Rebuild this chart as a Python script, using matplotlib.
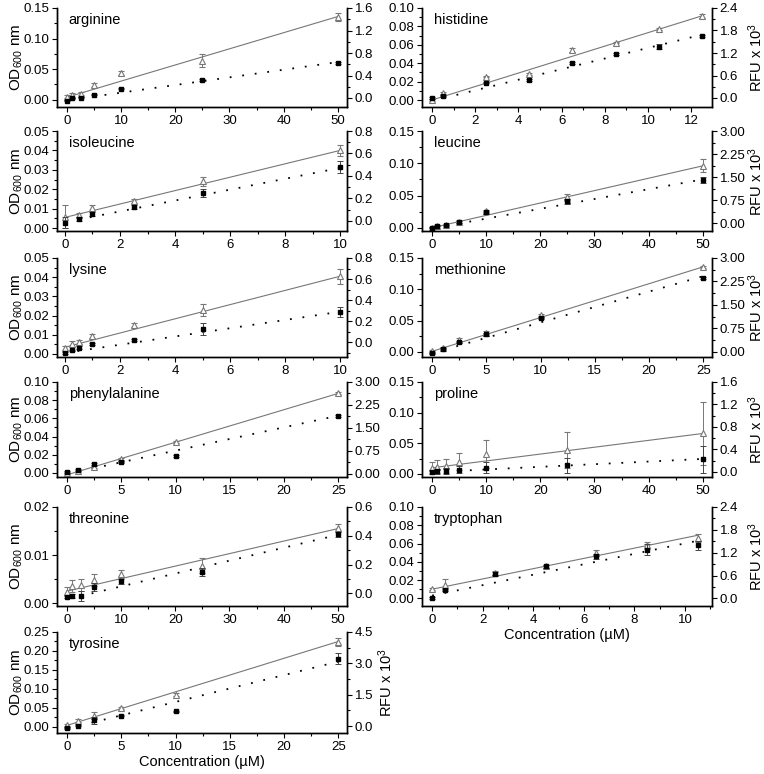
import matplotlib
matplotlib.use("Agg")
import matplotlib.pyplot as plt
from matplotlib.ticker import AutoMinorLocator, FormatStrFormatter

plt.rcParams['font.family'] = ['Liberation Sans', 'DejaVu Sans']
plt.rcParams['mathtext.fontset'] = 'custom'
plt.rcParams['mathtext.rm'] = 'Liberation Sans'
plt.rcParams['mathtext.default'] = 'regular'
plt.rcParams['font.size'] = 10

# ---- data (left axis units: OD600) ----
# tri = open triangles (solid fit), sq = filled squares (dotted fit)
arg_x = [0, 1, 2.5, 5, 10, 25, 50]
arg_tri = [0.005, 0.0075, 0.010, 0.024, 0.044, 0.064, 0.1355]
arg_tri_err = [0.002, 0.004, 0.003, 0.004, 0.003, 0.010, 0.006]
arg_sq = [-0.002, 0.002, 0.003, 0.008, 0.018, 0.032, 0.060]
arg_sq_err = [0.001, 0.001, 0.001, 0.001, 0.001, 0.001, 0.001]
arg_fit_tri = [0.004, 0.136]
arg_fit_sq = [-0.001, 0.0615]

his_x = [0, 0.5, 2.5, 4.5, 6.5, 8.5, 10.5, 12.5]
his_tri = [0.000, 0.0073, 0.0255, 0.0284, 0.054, 0.0625, 0.077, 0.091]
his_tri_err = [0.001, 0.001, 0.001, 0.001, 0.002, 0.001, 0.001, 0.002]
his_sq = [0.0025, 0.0044, 0.019, 0.022, 0.040, 0.050, 0.058, 0.070]
his_sq_err = [0.001, 0.001, 0.001, 0.001, 0.001, 0.001, 0.003, 0.001]
his_fit_tri = [0.000, 0.0915]
his_fit_sq = [-0.001, 0.071]

ile_x = [0, 0.5, 1, 2.5, 5, 10]
ile_tri = [0.0058, 0.0067, 0.0105, 0.014, 0.0240, 0.0400]
ile_tri_err = [0.006, 0.001, 0.0015, 0.001, 0.0025, 0.003]
ile_sq = [0.0028, 0.0046, 0.0072, 0.011, 0.0180, 0.0315]
ile_sq_err = [0.003, 0.001, 0.001, 0.001, 0.002, 0.003]
ile_fit_tri = [0.0055, 0.040]
ile_fit_sq = [0.003, 0.031]

leu_x = [0, 1, 2.5, 5, 10, 25, 50]
leu_tri = [0.000, 0.003, 0.005, 0.0095, 0.026, 0.047, 0.096]
leu_tri_err = [0.001, 0.001, 0.001, 0.002, 0.002, 0.006, 0.010]
leu_sq = [0.000, 0.003, 0.004, 0.009, 0.024, 0.041, 0.074]
leu_sq_err = [0.001, 0.001, 0.001, 0.002, 0.002, 0.004, 0.005]
leu_fit_tri = [0.000, 0.096]
leu_fit_sq = [-0.001, 0.075]

lys_x = [0, 0.25, 0.5, 1, 2.5, 5, 10]
lys_tri = [0.003, 0.005, 0.006, 0.0095, 0.015, 0.0228, 0.0405]
lys_tri_err = [0.001, 0.0015, 0.001, 0.001, 0.001, 0.003, 0.004]
lys_sq = [0.0007, 0.0018, 0.0033, 0.005, 0.0074, 0.013, 0.022]
lys_sq_err = [0.0005, 0.0005, 0.0008, 0.0005, 0.0005, 0.003, 0.0025]
lys_fit_tri = [0.0035, 0.0405]
lys_fit_sq = [0.0005, 0.022]

met_x = [0, 1, 2.5, 5, 10, 25]
met_tri = [0.002, 0.007, 0.019, 0.031, 0.059, 0.136]
met_tri_err = [0.001, 0.001, 0.003, 0.002, 0.002, 0.002]
met_sq = [-0.001, 0.005, 0.016, 0.028, 0.054, 0.118]
met_sq_err = [0.001, 0.001, 0.002, 0.002, 0.002, 0.002]
met_fit_tri = [0.001, 0.136]
met_fit_sq = [-0.002, 0.121]

phe_x = [0, 1, 2.5, 5, 10, 25]
phe_tri = [0.000, 0.002, 0.007, 0.0155, 0.034, 0.0875]
phe_tri_err = [0.001, 0.001, 0.001, 0.001, 0.001, 0.001]
phe_sq = [0.001, 0.003, 0.0095, 0.0125, 0.019, 0.0625]
phe_sq_err = [0.001, 0.001, 0.001, 0.001, 0.001, 0.001]
phe_fit_tri = [-0.002, 0.0875]
phe_fit_sq = [-0.001, 0.063]

pro_x = [0, 1, 2.5, 5, 10, 25, 50]
pro_tri = [0.010, 0.012, 0.013, 0.020, 0.032, 0.039, 0.066]
pro_tri_err = [0.009, 0.010, 0.011, 0.014, 0.023, 0.030, 0.052]
pro_sq = [0.003, 0.004, 0.005, 0.007, 0.010, 0.014, 0.024]
pro_sq_err = [0.003, 0.004, 0.005, 0.006, 0.009, 0.012, 0.022]
pro_fit_tri = [0.010, 0.066]
pro_fit_sq = [0.003, 0.0245]

thr_x = [0, 1, 2.5, 5, 10, 25, 50]
thr_tri = [0.0024, 0.0036, 0.0038, 0.0048, 0.0061, 0.0078, 0.0156]
thr_tri_err = [0.001, 0.0012, 0.0012, 0.0012, 0.0008, 0.0015, 0.0008]
thr_sq = [0.0013, 0.0014, 0.0015, 0.0034, 0.0045, 0.0065, 0.0143]
thr_sq_err = [0.0003, 0.0004, 0.001, 0.0008, 0.0005, 0.0008, 0.0006]
thr_fit_tri = [0.0025, 0.0155]
thr_fit_sq = [0.0008, 0.0142]

trp_x = [0, 0.5, 2.5, 4.5, 6.5, 8.5, 10.5]
trp_tri = [0.010, 0.015, 0.028, 0.035, 0.050, 0.058, 0.066]
trp_tri_err = [0.001, 0.006, 0.002, 0.002, 0.003, 0.004, 0.004]
trp_sq = [0.000, 0.009, 0.027, 0.035, 0.046, 0.053, 0.058]
trp_sq_err = [0.001, 0.001, 0.002, 0.002, 0.003, 0.006, 0.005]
trp_fit_tri = [0.010, 0.069]
trp_fit_sq = [0.003, 0.063]

tyr_x = [0, 1, 2.5, 5, 10, 25]
tyr_tri = [0.006, 0.0165, 0.030, 0.050, 0.0845, 0.224]
tyr_tri_err = [0.003, 0.004, 0.010, 0.003, 0.004, 0.010]
tyr_sq = [-0.003, 0.0035, 0.017, 0.030, 0.041, 0.180]
tyr_sq_err = [0.002, 0.002, 0.010, 0.002, 0.002, 0.015]
tyr_fit_tri = [0.004, 0.225]
tyr_fit_sq = [-0.005, 0.172]

# panel layout: name, data, col, row, xticks, xlim, left ticks/lim/fmt, right ticks/lim/fmt
panels = [
    ('arginine', (arg_x, arg_tri, arg_tri_err, arg_sq, arg_sq_err, arg_fit_tri, arg_fit_sq), 0, 0,
     range(0, 51, 10), (-1.85, 51.7), [0, .05, .10, .15], (-0.012, 0.15), '%.2f',
     [0, .4, .8, 1.2, 1.6], (-0.16, 1.6), '%.1f'),
    ('histidine', (his_x, his_tri, his_tri_err, his_sq, his_sq_err, his_fit_tri, his_fit_sq), 1, 0,
     range(0, 13, 2), (-0.46, 12.96), [0, .02, .04, .06, .08, .10], (-0.0076, 0.10), '%.2f',
     [0, .6, 1.2, 1.8, 2.4], (-0.24, 2.4), '%.1f'),
    ('isoleucine', (ile_x, ile_tri, ile_tri_err, ile_sq, ile_sq_err, ile_fit_tri, ile_fit_sq), 0, 1,
     range(0, 11, 2), (-0.29, 10.25), [0, .01, .02, .03, .04, .05], (-0.0015, 0.05), '%.2f',
     [0, .2, .4, .6, .8], (-0.09, 0.8), '%.1f'),
    ('leucine', (leu_x, leu_tri, leu_tri_err, leu_sq, leu_sq_err, leu_fit_tri, leu_fit_sq), 1, 1,
     range(0, 51, 10), (-1.85, 51.7), [0, .05, .10, .15], (-0.005, 0.15), '%.2f',
     [0, .75, 1.5, 2.25, 3.0], (-0.25, 3.0), '%.2f'),
    ('lysine', (lys_x, lys_tri, lys_tri_err, lys_sq, lys_sq_err, lys_fit_tri, lys_fit_sq), 0, 2,
     range(0, 11, 2), (-0.29, 10.25), [0, .01, .02, .03, .04, .05], (-0.0016, 0.05), '%.2f',
     [0, .2, .4, .6, .8], (-0.14, 0.8), '%.1f'),
    ('methionine', (met_x, met_tri, met_tri_err, met_sq, met_sq_err, met_fit_tri, met_fit_sq), 1, 2,
     range(0, 26, 5), (-0.92, 25.8), [0, .05, .10, .15], (-0.008, 0.15), '%.2f',
     [0, .75, 1.5, 2.25, 3.0], (-0.16, 3.0), '%.2f'),
    ('phenylalanine', (phe_x, phe_tri, phe_tri_err, phe_sq, phe_sq_err, phe_fit_tri, phe_fit_sq), 0, 3,
     range(0, 26, 5), (-0.92, 25.8), [0, .02, .04, .06, .08, .10], (-0.0044, 0.10), '%.2f',
     [0, .75, 1.5, 2.25, 3.0], (-0.1, 3.0), '%.2f'),
    ('proline', (pro_x, pro_tri, pro_tri_err, pro_sq, pro_sq_err, pro_fit_tri, pro_fit_sq), 1, 3,
     range(0, 51, 10), (-1.85, 51.7), [0, .05, .10, .15], (-0.005, 0.15), '%.2f',
     [0, .4, .8, 1.2, 1.6], (-0.09, 1.6), '%.1f'),
    ('threonine', (thr_x, thr_tri, thr_tri_err, thr_sq, thr_sq_err, thr_fit_tri, thr_fit_sq), 0, 4,
     range(0, 51, 10), (-1.85, 51.7), [0, .01, .02], (-0.0006, 0.02), '%.2f',
     [0, .2, .4, .6], (-0.087, 0.6), '%.1f'),
    ('tryptophan', (trp_x, trp_tri, trp_tri_err, trp_sq, trp_sq_err, trp_fit_tri, trp_fit_sq), 1, 4,
     range(0, 11, 2), (-0.4, 11.07), [0, .02, .04, .06, .08, .10], (-0.0084, 0.10), '%.2f',
     [0, .6, 1.2, 1.8, 2.4], (-0.2, 2.4), '%.1f'),
    ('tyrosine', (tyr_x, tyr_tri, tyr_tri_err, tyr_sq, tyr_sq_err, tyr_fit_tri, tyr_fit_sq), 0, 5,
     range(0, 26, 5), (-0.92, 25.8), [0, .05, .10, .15, .20, .25], (-0.016, 0.25), '%.2f',
     [0, 1.5, 3.0, 4.5], (-0.33, 4.5), '%.1f'),
]

W, H = 764, 774
col_x = [57, 422]
ax_w = 290
rows = [(8, 107), (131, 231), (258, 357), (382, 477), (507, 606), (632, 733)]

fig = plt.figure(figsize=(W / 100, H / 100), dpi=100)

for (name, d, col, row, xt, xl, ylt, yll, ylf, yrt, yrl, yrf) in panels:
    x, tri, tri_e, sq, sq_e, ft, fs = d
    top, bot = rows[row]
    ax = fig.add_axes([col_x[col] / W, 1 - bot / H, ax_w / W, (bot - top) / H])
    ax2 = ax.twinx()

    ax.plot([x[0], x[-1]], ft, color='#777777', lw=0.8, zorder=2)
    ax.plot([x[0], x[-1]], fs, color='black', lw=1.3, ls=(0, (1, 6)), zorder=2)
    ax.errorbar(x, tri, yerr=tri_e, fmt='^', ms=5, mfc='white', mec='#777777', mew=0.8,
                ecolor='#777777', elinewidth=0.7, capsize=2, capthick=0.7, zorder=3)
    ax.errorbar(x, sq, yerr=sq_e, fmt='s', ms=3.5, color='black',
                ecolor='#444444', elinewidth=0.7, capsize=2, capthick=0.7, zorder=4)

    ax.set_xlim(xl)
    ax.set_xticks(list(xt))
    ax.set_ylim(yll)
    ax.set_yticks(ylt)
    ax.yaxis.set_major_formatter(FormatStrFormatter(ylf))
    ax2.set_ylim(yrl)
    ax2.set_yticks(yrt)
    ax2.yaxis.set_major_formatter(FormatStrFormatter(yrf))

    for a in (ax, ax2):
        a.spines['top'].set_visible(False)
        for s in a.spines.values():
            s.set_linewidth(1.0)
        a.yaxis.set_minor_locator(AutoMinorLocator(2))
        a.tick_params(which='major', direction='out', length=3.5, width=0.8,
                      labelsize=9.5, pad=2)
        a.tick_params(which='minor', direction='out', length=2, width=0.8)
    ax.xaxis.set_minor_locator(AutoMinorLocator(2))

    ax.text(0.04, 0.95, name, transform=ax.transAxes, va='top', ha='left', fontsize=10.5)

    if col == 0:
        ax.set_ylabel('OD$_{600}$ nm', fontsize=11)
        ax.yaxis.set_label_coords(-0.11, 0.5)
    if col == 1:
        ax2.set_ylabel('RFU x 10$^3$', fontsize=10.5)
        ax2.yaxis.set_label_coords(1.117, 0.5)
    if name == 'tyrosine':
        ax2.set_ylabel('RFU x 10$^3$', fontsize=10.5)
        ax2.yaxis.set_label_coords(1.1, 0.5)
    if name in ('tyrosine', 'tryptophan'):
        ax.set_xlabel('Concentration (\u00b5M)', fontsize=10.5, labelpad=2)

fig.savefig('out.png', dpi=100)
